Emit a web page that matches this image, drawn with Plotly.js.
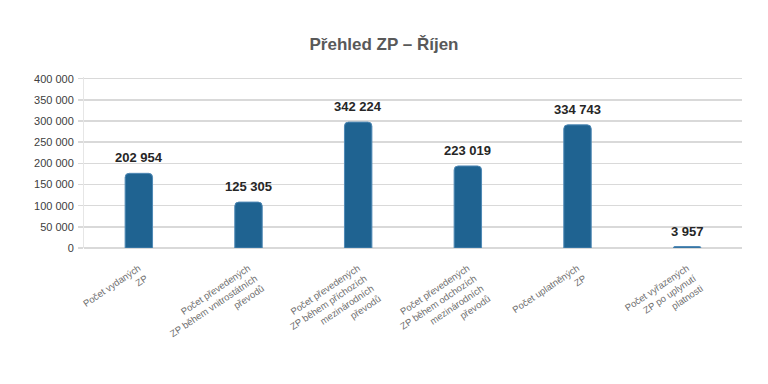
<!DOCTYPE html>
<html>
<head>
<meta charset="utf-8">
<script src="https://cdn.plot.ly/plotly-3.0.1.min.js"></script>
<style>html,body{margin:0;padding:0;background:#fff;}#chart{width:768px;height:384px;}</style>
</head>
<body>
<div id="chart"></div>
<script>
const categories = [
  "Počet vydaných<br>ZP",
  "Počet převedených<br>ZP během vnitrostátních<br>převodů",
  "Počet převedených<br>ZP během příchozích<br>mezinárodních<br>převodů",
  "Počet převedených<br>ZP během odchozích<br>mezinárodních<br>převodů",
  "Počet uplatněných<br>ZP",
  "Počet vyřazených<br>ZP po uplynutí<br>platnosti"
];
// bar heights as drawn in the picture (read against the y axis)
const barHeights = [176400, 108500, 297400, 193800, 291000, 3400];
// value labels printed above the bars
const valueLabels = ["202 954", "125 305", "342 224", "223 019", "334 743", "3 957"];
const yTicks = [0, 50000, 100000, 150000, 200000, 250000, 300000, 350000, 400000];

const FONT = 'Arial, "Liberation Sans", sans-serif';

const trace = {
  type: 'bar',
  x: categories,
  y: barHeights,
  marker: {color: '#1f6391', line: {color: '#4f89b5', width: 1}, cornerradius: 4},
  hoverinfo: 'none'
};

const annotations = categories.map((c, i) => ({
  x: c, y: barHeights[i], xref: 'x', yref: 'y',
  text: '<b>' + valueLabels[i] + '</b>',
  showarrow: false, yanchor: 'bottom', yshift: 6,
  font: {family: FONT, size: 13, color: '#262626'}
}));

const layout = {
  width: 768, height: 384,
  margin: {l: 84, r: 26, t: 77, b: 136},
  paper_bgcolor: '#fff', plot_bgcolor: '#fff',
  separators: ', ',
  showlegend: false,
  bargap: 0.75,
  title: {
    text: '<b>Přehled ZP – Říjen</b>',
    font: {family: FONT, size: 17, color: '#595959'},
    x: 0.5, xanchor: 'center', xref: 'container',
    y: 1 - 44/384, yanchor: 'middle', yref: 'container'
  },
  xaxis: {
    type: 'category',
    tickangle: -34,
    tickfont: {family: FONT, size: 9.5, color: '#6f6f6f'},
    showgrid: false, showline: false, ticks: '', zeroline: false,
    ticklabelstandoff: 12
  },
  yaxis: {
    range: [0, 404000],
    tickvals: yTicks,
    tickformat: ',d',
    tickfont: {family: FONT, size: 11, color: '#404040'},
    showgrid: true, gridcolor: '#d9d9d9', gridwidth: 1.5,
    zeroline: true, zerolinecolor: '#d9d9d9', zerolinewidth: 1.5,
    showline: true, linecolor: '#e6e6e6', linewidth: 1,
    ticks: 'outside', ticklen: 5, tickcolor: '#d9d9d9', tickwidth: 1.5,
    ticklabelstandoff: 2
  },
  annotations: annotations
};

Plotly.newPlot('chart', [trace], layout, {displayModeBar: false, staticPlot: true});
</script>
</body>
</html>
